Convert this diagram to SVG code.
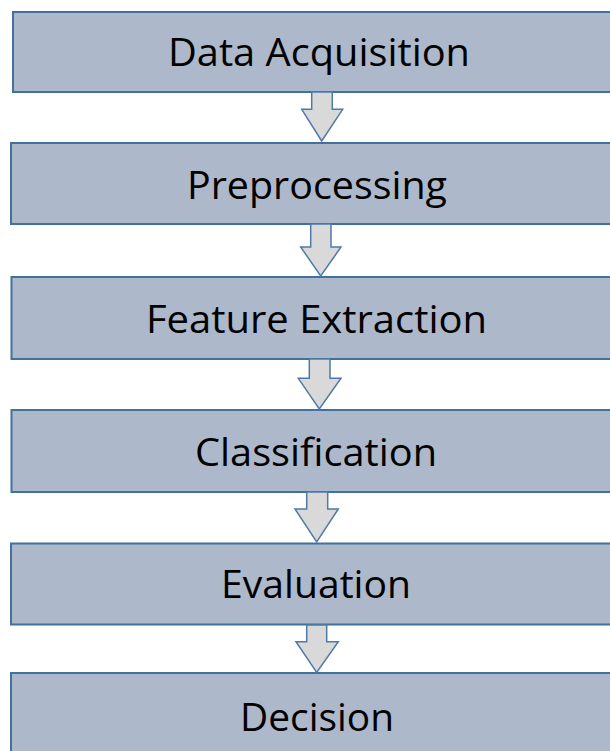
<svg xmlns="http://www.w3.org/2000/svg" width="610" height="751" viewBox="0 0 610 751">
<style>
.box{fill:#adb9ca;stroke:#41719c;stroke-width:2}
.arr{fill:#d9d9d9;stroke:#4f7aa8;stroke-width:1.5;stroke-linejoin:miter}
.lbl{font-family:"Open Sans","Noto Sans","Liberation Sans",sans-serif;font-size:38px;fill:#000;text-anchor:middle}
</style>
<rect width="610" height="751" fill="#fff"/>
<g id="n1"><rect class="box" x="13" y="12" width="610" height="80"/><text class="lbl" x="319" y="66" textLength="302" lengthAdjust="spacingAndGlyphs">Data Acquisition</text></g>
<g id="n2"><rect class="box" x="11" y="143" width="610" height="81"/><text class="lbl" x="317" y="199" textLength="260" lengthAdjust="spacingAndGlyphs">Preprocessing</text></g>
<g id="n3"><rect class="box" x="11.5" y="277" width="610" height="82"/><text class="lbl" x="316.5" y="333" textLength="341" lengthAdjust="spacingAndGlyphs">Feature Extraction</text></g>
<g id="n4"><rect class="box" x="11.5" y="410" width="610" height="82"/><text class="lbl" x="316" y="466" textLength="242" lengthAdjust="spacingAndGlyphs">Classification</text></g>
<g id="n5"><rect class="box" x="11" y="543.5" width="610" height="81"/><text class="lbl" x="316" y="598" textLength="190" lengthAdjust="spacingAndGlyphs">Evaluation</text></g>
<g id="n6"><rect class="box" x="11" y="673" width="610" height="100"/><text class="lbl" x="317" y="731" textLength="154" lengthAdjust="spacingAndGlyphs">Decision</text></g>
<g id="connectors">
<path class="arr" d="M311.7,92 H332.3 V109.3 H342.7 L321.7,141 L301.7,109.3 H311.7 Z"/>
<path class="arr" d="M310.7,224 H331 V247 H341 L320.7,276 L300.7,247 H310.7 Z"/>
<path class="arr" d="M309.3,359 H330 V378.3 H341 L319.3,409 L298.3,378.3 H309.3 Z"/>
<path class="arr" d="M306.7,492 H327.7 V509 H338.3 L316.7,542 L295,509 H306.7 Z"/>
<path class="arr" d="M306.7,625 H326.7 V641.7 H338.3 L316.7,672.5 L296,641.7 H306.7 Z"/>
</g>
</svg>
